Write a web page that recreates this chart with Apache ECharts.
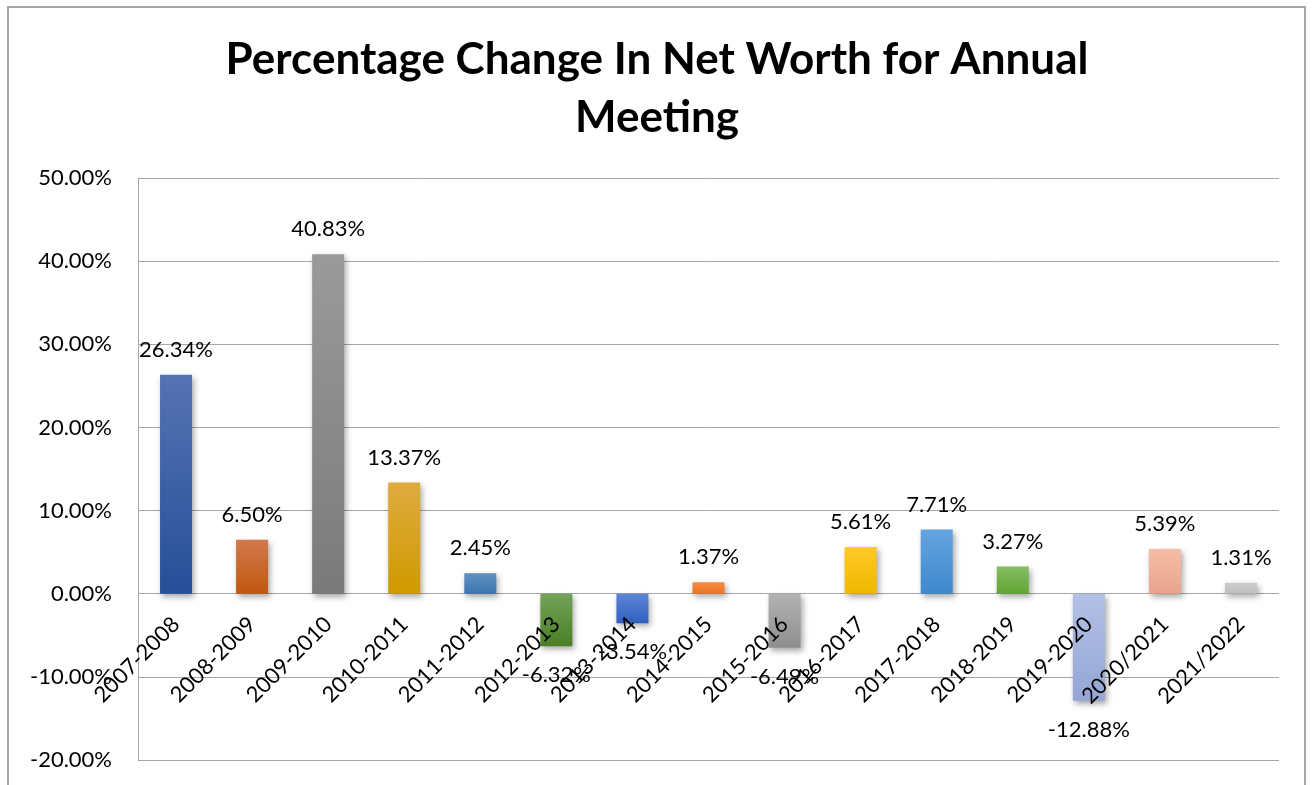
<!DOCTYPE html>
<html>
<head>
<meta charset="utf-8">
<title>Percentage Change In Net Worth</title>
<script src="https://cdn.jsdelivr.net/npm/echarts@6/dist/echarts.min.js"></script>
<style>
  html, body { margin: 0; padding: 0; background: #fff; }
  #frame {
    position: absolute; left: 7px; top: 6px; width: 1299px; height: 800px;
    border: 2px solid #a6a6a6; box-sizing: border-box;
  }
  #chart { position: absolute; left: 0; top: 0; width: 1314px; height: 785px; }
</style>
</head>
<body>
<div id="frame"></div>
<div id="chart"></div>
<script>
const categories = ['2007-2008', '2008-2009', '2009-2010', '2010-2011', '2011-2012',
  '2012-2013', '2013-2014', '2014-2015', '2015-2016', '2016-2017', '2017-2018',
  '2018-2019', '2019-2020', '2020/2021', '2021/2022']
const changeValues = [26.34, 6.50, 40.83, 13.37, 2.45, -6.32, -3.54, 1.37, -6.49,
  5.61, 7.71, 3.27, -12.88, 5.39, 1.31]
const yTicks = { min: -20, max: 50, interval: 10 }

// top / bottom gradient colour for each bar
const barColors = [
  ['#5673b3', '#264f98'],
  ['#d27a4c', '#c1560f'],
  ['#9a9a9a', '#7a7a7a'],
  ['#dfab3f', '#d09a00'],
  ['#6292c3', '#3c74ad'],
  ['#72a357', '#4a7f27'],
  ['#5f86d6', '#2f5fbf'],
  ['#f48a3e', '#ea7427'],
  ['#b3b3b3', '#8e8e8e'],
  ['#ffc926', '#f0b800'],
  ['#64a4e0', '#3e89cd'],
  ['#85bf63', '#62a434'],
  ['#b3c0e6', '#95a6d6'],
  ['#f6bda6', '#e8a48d'],
  ['#cdcdcd', '#bdbdbd']
]

const gridTop = 178
const gridBottom = 25
const plotHeight = 785 - gridTop - gridBottom
// category labels sit on the zero line, like the source chart
const zeroOffset = -(0 - yTicks.min) / (yTicks.max - yTicks.min) * plotHeight

const chart = echarts.init(document.getElementById('chart'))

const seriesData = changeValues.map((v, i) => {
  const c = barColors[i]
  return {
    value: v,
    itemStyle: {
      color: new echarts.graphic.LinearGradient(0, 0, 0, 1, [
        { offset: 0, color: c[0] },
        { offset: 1, color: c[1] }
      ])
    },
    label: v < 0 ? { position: 'bottom', distance: 18 } : { position: 'top', distance: 14 }
  }
})

chart.setOption({
  animation: false,
  title: {
    text: 'Percentage Change In Net Worth for Annual\nMeeting',
    left: 'center',
    top: 26,
    textStyle: {
      fontFamily: 'Lato',
      fontWeight: 'bold',
      fontSize: 44,
      lineHeight: 58,
      color: '#000'
    }
  },
  grid: {
    left: 138,
    right: 35,
    top: gridTop,
    bottom: gridBottom,
    containLabel: false,
    outerBoundsMode: 'none'
  },
  xAxis: {
    type: 'category',
    data: categories,
    offset: zeroOffset,
    z: 5,
    axisLine: { show: false },
    axisTick: { show: false },
    axisLabel: {
      rotate: 45,
      margin: 27,
      interval: 0,
      fontFamily: 'Lato',
      fontSize: 22,
      color: '#000'
    }
  },
  yAxis: {
    type: 'value',
    min: yTicks.min,
    max: yTicks.max,
    interval: yTicks.interval,
    axisLine: { show: true, lineStyle: { color: '#a6a6a6', width: 1 } },
    axisTick: { show: false },
    splitLine: { lineStyle: { color: '#a6a6a6', width: 1 } },
    axisLabel: {
      margin: 26,
      fontFamily: 'Lato',
      fontSize: 22,
      color: '#000',
      formatter: v => v.toFixed(2) + '%'
    }
  },
  series: [{
    type: 'bar',
    data: seriesData,
    barWidth: 32,
    itemStyle: {
      shadowBlur: 6,
      shadowOffsetX: 2,
      shadowOffsetY: 3,
      shadowColor: 'rgba(0,0,0,0.35)'
    },
    label: {
      show: true,
      fontFamily: 'Lato',
      fontSize: 22,
      color: '#000',
      formatter: p => p.value.toFixed(2) + '%'
    }
  }]
})
</script>
</body>
</html>
